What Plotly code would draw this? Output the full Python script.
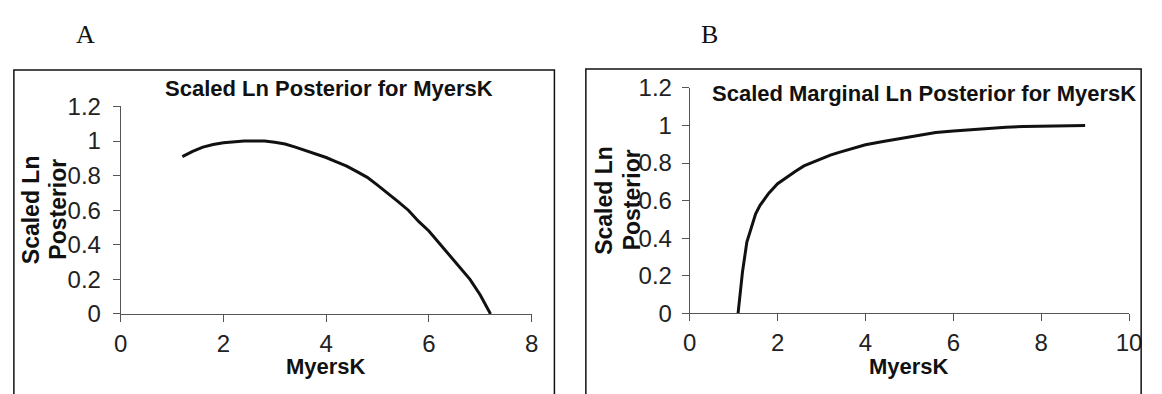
import plotly.graph_objects as go

W, H = 1162, 394

# Panel A: scaled log posterior against MyersK
a_x = [1.2, 1.4, 1.6, 1.8, 2.0, 2.2, 2.4, 2.6, 2.8, 3.0, 3.2, 3.4, 3.6, 3.8, 4.0,
       4.2, 4.4, 4.6, 4.8, 5.0, 5.2, 5.4, 5.6, 5.8, 6.0, 6.2, 6.4, 6.6, 6.8, 7.0, 7.2]
a_y = [0.91, 0.94, 0.965, 0.98, 0.99, 0.995, 1.0, 1.0, 1.0, 0.993, 0.983, 0.965, 0.945,
       0.925, 0.905, 0.88, 0.855, 0.823, 0.79, 0.745, 0.70, 0.65, 0.60, 0.535, 0.48,
       0.41, 0.345, 0.27, 0.20, 0.11, 0.0]

# Panel B: scaled marginal log posterior against MyersK
b_x = [1.1, 1.2, 1.3, 1.4, 1.5, 1.6, 1.8, 2.0, 2.2, 2.4, 2.6, 2.8, 3.0, 3.2, 3.4, 3.6,
       3.8, 4.0, 4.4, 4.8, 5.2, 5.6, 6.0, 6.4, 6.8, 7.2, 7.6, 8.0, 8.5, 9.0]
b_y = [0.0, 0.22, 0.38, 0.46, 0.53, 0.575, 0.64, 0.69, 0.725, 0.755, 0.785, 0.805, 0.825,
       0.842, 0.857, 0.87, 0.885, 0.897, 0.915, 0.932, 0.948, 0.962, 0.97, 0.978, 0.985,
       0.99, 0.995, 0.997, 0.999, 1.0]

y_ticks = [0, 0.2, 0.4, 0.6, 0.8, 1.0, 1.2]
y_ticktext = ["0", "0.2", "0.4", "0.6", "0.8", "1", "1.2"]
a_xticks = [0, 2, 4, 6, 8]
b_xticks = [0, 2, 4, 6, 8, 10]

panel_letters = ["A", "B"]
titles = ["Scaled Ln Posterior for MyersK", "Scaled Marginal Ln Posterior for MyersK"]
y_title_lines = ["Scaled Ln", "Posterior"]
x_title = "MyersK"


def px(x):
    return x / W


def py(y):
    return 1 - y / H


SANS = "Arial, Liberation Sans, sans-serif"
SERIF = "Times New Roman, Liberation Serif, serif"

fig = go.Figure()
fig.add_trace(go.Scatter(x=a_x, y=a_y, mode="lines", xaxis="x", yaxis="y",
                         line=dict(color="#111111", width=3), showlegend=False))
fig.add_trace(go.Scatter(x=b_x, y=b_y, mode="lines", xaxis="x2", yaxis="y2",
                         line=dict(color="#111111", width=3), showlegend=False))

axis_common = dict(showgrid=False, zeroline=False, showline=True, linecolor="#555555",
                   linewidth=1, ticks="outside", ticklen=7, tickcolor="#555555",
                   tickfont=dict(family=SANS, size=24, color="#222222"), fixedrange=True)

fig.update_layout(
    width=W, height=H, autosize=False,
    margin=dict(l=0, r=0, t=0, b=0),
    paper_bgcolor="white", plot_bgcolor="white",
    xaxis=dict(domain=[px(115.7), px(533.8)], range=[0, 8], tickvals=a_xticks,
               anchor="y", ticklabelstandoff=1, **axis_common),
    yaxis=dict(domain=[py(322), py(99.3)], range=[0, 1.2], tickvals=y_ticks,
               ticktext=y_ticktext, anchor="x", ticklabelstandoff=7, **axis_common),
    xaxis2=dict(domain=[px(694.7), px(1141.7)], range=[0, 10], tickvals=b_xticks,
                anchor="y2", ticklabelstandoff=1, **axis_common),
    yaxis2=dict(domain=[py(321.5), py(79.3)], range=[0, 1.2], tickvals=y_ticks,
                ticktext=y_ticktext, anchor="x2", ticklabelstandoff=5, **axis_common),
)

# Panel frames (bottom edge runs past the figure)
frames = [(7, 557, 60), (589, 1154, 59)]
for x0, x1, top in frames:
    fig.add_shape(type="rect", xref="paper", yref="paper",
                  x0=px(x0), x1=px(x1), y0=-0.2, y1=py(top),
                  line=dict(color="#111111", width=1.5), fillcolor="rgba(0,0,0,0)")

ann = []
# Panel letters
for letter, cx in zip(panel_letters, [80, 715]):
    ann.append(dict(text=letter, x=px(cx), y=py(22), xref="paper", yref="paper",
                    xanchor="center", yanchor="middle", showarrow=False,
                    font=dict(family=SERIF, size=26, color="#111111")))
# Chart titles
for t, cx, cy in zip(titles, [328, 933], [80, 85]):
    ann.append(dict(text=t, x=px(cx), y=py(cy), xref="paper", yref="paper",
                    xanchor="center", yanchor="middle", showarrow=False,
                    font=dict(family=SANS, size=22, color="#111111", weight="bold")))
# Y axis titles, two rotated lines each
for (l1, l2), cy in zip([(24, 52), (608, 636)], [210, 200]):
    for line, cx in zip(y_title_lines, [l1, l2]):
        ann.append(dict(text=line, x=px(cx), y=py(cy), xref="paper", yref="paper",
                        xanchor="center", yanchor="middle", showarrow=False, textangle=-90,
                        font=dict(family=SANS, size=23, color="#111111", weight="bold")))
# X axis titles
for cx in [325, 918]:
    ann.append(dict(text=x_title, x=px(cx), y=py(378), xref="paper", yref="paper",
                    xanchor="center", yanchor="middle", showarrow=False,
                    font=dict(family=SANS, size=22, color="#111111", weight="bold")))
fig.update_layout(annotations=ann)

fig.write_html("out.html")
